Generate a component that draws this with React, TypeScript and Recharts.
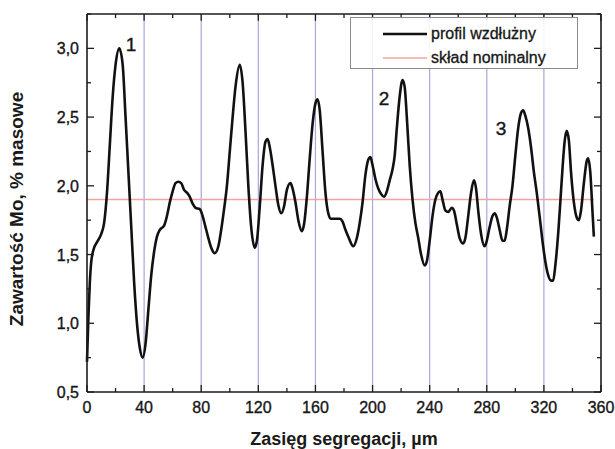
import React from 'react';
import {
  LineChart, Line, XAxis, YAxis, ReferenceLine, ReferenceDot, Legend,
} from 'recharts';

const positionsUm = [
  0, 1, 2, 3, 5, 7, 10, 12, 14, 16, 18, 20, 22.6, 25, 27, 29, 31, 33, 35, 37,
  39, 41, 43, 45, 47, 49, 51, 54, 56, 58, 60, 62, 64, 66, 68, 70, 72, 74, 76, 79,
  81, 83, 85, 87, 89.5, 92, 94, 96, 98, 100, 102, 104, 107, 109, 111, 113, 115, 117.5, 119, 121,
  123, 125, 126.5, 128, 130, 132, 134, 136, 138, 140, 142.5, 144, 146, 148, 150.5, 152, 154, 156, 158, 160,
  161.5, 163, 165, 167, 169, 171, 174, 177, 179, 181, 183, 186.5, 189, 191, 193, 195, 197, 198.5, 200, 202,
  204, 206, 208, 210, 212, 214, 215.5, 217, 219, 221, 222.5, 224, 226, 228, 230, 232, 234, 236.5, 238, 240,
  242, 244, 246, 247.5, 249, 251, 253, 255.5, 257, 259, 261, 263.5, 265, 267, 269, 271, 272.5, 274, 276, 278.5,
  280, 282, 284, 285.5, 287, 289, 291, 292.5, 294, 296, 298, 300, 302, 304, 305.5, 307, 309, 311, 313, 315,
  317, 319, 321, 323, 325, 326.5, 328, 330, 331.5, 333, 334.5, 336, 337.5, 339, 341, 343, 344.5, 346, 348, 350,
  351, 352.5, 354, 355,
];

const moContent = [
  0.72, 1.05, 1.3, 1.45, 1.55, 1.59, 1.65, 1.73, 1.95, 2.3, 2.65, 2.88, 3.0, 2.88, 2.5, 2.1, 1.7, 1.3, 1.0, 0.82,
  0.75, 0.85, 1.1, 1.35, 1.52, 1.63, 1.68, 1.71, 1.78, 1.88, 1.96, 2.02, 2.03, 2.02, 1.97, 1.95, 1.92, 1.87, 1.84, 1.83,
  1.78, 1.7, 1.62, 1.55, 1.51, 1.56, 1.68, 1.83, 2.0, 2.25, 2.5, 2.72, 2.88, 2.75, 2.4, 2.0, 1.7, 1.55, 1.6, 1.85,
  2.15, 2.32, 2.34, 2.28, 2.15, 2.0, 1.86, 1.8, 1.85, 1.97, 2.02, 1.98, 1.88, 1.75, 1.67, 1.72, 1.92, 2.2, 2.45, 2.6,
  2.63, 2.55, 2.25, 1.95, 1.8, 1.76, 1.76, 1.76, 1.74, 1.68, 1.63, 1.56, 1.62, 1.73, 1.88, 2.08, 2.19, 2.21, 2.15, 2.05,
  1.98, 1.94, 1.92, 1.96, 2.04, 2.12, 2.22, 2.42, 2.65, 2.77, 2.72, 2.5, 2.15, 1.9, 1.73, 1.62, 1.5, 1.42, 1.45, 1.6,
  1.78, 1.9, 1.95, 1.96, 1.9, 1.82, 1.81, 1.84, 1.82, 1.72, 1.62, 1.58, 1.62, 1.78, 1.95, 2.04, 1.98, 1.82, 1.65, 1.56,
  1.6, 1.7, 1.78, 1.8, 1.77, 1.68, 1.6, 1.6, 1.68, 1.85, 2.0, 2.22, 2.42, 2.53, 2.55, 2.51, 2.42, 2.28, 2.1, 1.95,
  1.78, 1.6, 1.45, 1.35, 1.31, 1.31, 1.42, 1.65, 1.88, 2.12, 2.32, 2.4, 2.33, 2.1, 1.88, 1.77, 1.75, 1.82, 2.02, 2.18,
  2.2, 2.1, 1.82, 1.63,
];

const nominalMo = 1.9;

const xDomain = [0, 360];
const yDomain = [0.5, 3.25];
const xTicks = [0, 20, 40, 60, 80, 100, 120, 140, 160, 180, 200, 220, 240, 260, 280, 300, 320, 340, 360];
const xLabelTicks = [0, 40, 80, 120, 160, 200, 240, 280, 320, 360];
const yTicks = [0.5, 0.75, 1.0, 1.25, 1.5, 1.75, 2.0, 2.25, 2.5, 2.75, 3.0, 3.25];
const yLabelTicks = [0.5, 1.0, 1.5, 2.0, 2.5, 3.0];
const gridX = [40, 80, 120, 160, 200, 240, 280, 320];

const peakMarks = [
  { label: '1', x: 30.8, y: 3.03 },
  { label: '2', x: 208, y: 2.64 },
  { label: '3', x: 290, y: 2.42 },
];

const seriesNames = ['profil wzdłużny', 'skład nominalny'];

const data = positionsUm.map((x, i) => ({ x, mo: moContent[i], nom: nominalMo }));

const FONT = '"Liberation Sans", Arial, sans-serif';
const AXIS = '#1c1c1c';
const LABEL = '#161616';

// inward tick lengths expressed in axis units (major / minor)
const Y_TICK_LEN = [0.05, 0.03];
const X_TICK_LEN = [4.9, 2.8];

const fmt = (v: number) => v.toFixed(1).replace('.', ',');

const BottomTick = (props: any) => {
  const { x, y, payload } = props;
  const v = payload.value;
  const major = xLabelTicks.includes(v);
  return (
    <g>
      <line x1={x} x2={x} y1={y} y2={y - (major ? 7 : 4)} stroke={AXIS} strokeWidth={1.3} />
      {major && (
        <text x={x} y={y + 21} textAnchor="middle" fontFamily={FONT} fontSize={16} fill={LABEL}
          stroke={LABEL} strokeWidth={0.35}>
          {v}
        </text>
      )}
    </g>
  );
};

const LeftTick = (props: any) => {
  const { x, y, payload } = props;
  const v = payload.value;
  const major = yLabelTicks.includes(v);
  return (
    <g>
      <line x1={x} x2={x + (major ? 7 : 4)} y1={y} y2={y} stroke={AXIS} strokeWidth={1.3} />
      {major && (
        <text x={x - 8} y={y + 6} textAnchor="end" fontFamily={FONT} fontSize={16} fill={LABEL}
          stroke={LABEL} strokeWidth={0.35}>
          {fmt(v)}
        </text>
      )}
    </g>
  );
};

const LegendBox = () => (
  <div
    style={{
      border: '1px solid #8a8a8a',
      background: 'rgba(255,255,255,0.9)',
      width: 228,
      height: 52,
      boxSizing: 'border-box',
      fontFamily: FONT,
      fontSize: 16,
      color: '#161616',
      paddingTop: 4,
      WebkitTextStroke: '0.3px #161616',
    }}
  >
    {seriesNames.map((name, i) => (
      <div key={name} style={{ display: 'flex', alignItems: 'center', height: 24 }}>
        <svg width={80} height={10} style={{ flex: 'none' }}>
          <line
            x1={32}
            x2={76}
            y1={5}
            y2={5}
            stroke={i === 0 ? '#111' : '#f2a49e'}
            strokeWidth={i === 0 ? 2.5 : 1.5}
          />
        </svg>
        <span style={{ lineHeight: '20px' }}>{name}</span>
      </div>
    ))}
  </div>
);

const PeakLabel = (props: any) => {
  const { cx, cy, label } = props;
  return (
    <text x={cx} y={cy + 7} textAnchor="middle" fontFamily={FONT} fontSize={19} fill="#161616"
      stroke="#161616" strokeWidth={0.4}>
      {label}
    </text>
  );
};

export default function App() {
  const topY = yDomain[1];
  const rightX = xDomain[1];
  return (
    <div style={{ position: 'absolute', left: 0, top: 0, width: 615, height: 449, background: '#fff' }}>
      <LineChart
        width={615}
        height={449}
        data={data}
        margin={{ top: 14, right: 14, bottom: 0, left: 0 }}
      >
        <XAxis
          dataKey="x"
          type="number"
          domain={xDomain}
          ticks={xTicks}
          interval={0}
          height={57}
          axisLine={{ stroke: AXIS, strokeWidth: 1.6 }}
          tickLine={false}
          tickSize={0}
          tickMargin={0}
          tick={<BottomTick />}
          label={{
            content: (p: any) => {
              const vb = p.viewBox;
              return (
                <text
                  x={vb.x + vb.width / 2}
                  y={445}
                  textAnchor="middle"
                  fontFamily={FONT}
                  fontWeight="bold"
                  fontSize={18}
                  fill="#1a1a1a"
                >
                  Zasięg segregacji, µm
                </text>
              );
            },
          }}
        />
        <YAxis
          type="number"
          domain={yDomain}
          ticks={yTicks}
          interval={0}
          width={87}
          axisLine={{ stroke: AXIS, strokeWidth: 1.6 }}
          tickLine={false}
          tickSize={0}
          tickMargin={0}
          tick={<LeftTick />}
          label={{
            content: (p: any) => {
              const vb = p.viewBox;
              const cy = vb.y + vb.height / 2 + 6;
              return (
                <text
                  x={16}
                  y={cy}
                  transform={`rotate(-90 16 ${cy})`}
                  textAnchor="middle"
                  dominantBaseline="central"
                  fontFamily={FONT}
                  fontWeight="bold"
                  fontSize={19}
                  fill="#1a1a1a"
                >
                  Zawartość Mo, % masowe
                </text>
              );
            },
          }}
        />
        {gridX.map((g) => (
          <ReferenceLine key={g} x={g} stroke="#a7a7dc" strokeWidth={1.2} />
        ))}
        {/* closed frame: top and right edges */}
        <ReferenceLine y={topY} stroke={AXIS} strokeWidth={1.6} ifOverflow="extendDomain" />
        <ReferenceLine x={rightX} stroke={AXIS} strokeWidth={1.6} ifOverflow="extendDomain" />
        {xTicks.map((t) => {
          const len = xLabelTicks.includes(t) ? Y_TICK_LEN[0] : Y_TICK_LEN[1];
          return (
            <ReferenceLine
              key={`tt${t}`}
              segment={[{ x: t, y: topY }, { x: t, y: topY - len }]}
              stroke={AXIS}
              strokeWidth={1.3}
              ifOverflow="extendDomain"
            />
          );
        })}
        {yTicks.map((t) => {
          const len = yLabelTicks.includes(t) ? X_TICK_LEN[0] : X_TICK_LEN[1];
          return (
            <ReferenceLine
              key={`rt${t}`}
              segment={[{ x: rightX, y: t }, { x: rightX - len, y: t }]}
              stroke={AXIS}
              strokeWidth={1.3}
              ifOverflow="extendDomain"
            />
          );
        })}
        <Line
          dataKey="nom"
          name={seriesNames[1]}
          type="linear"
          stroke="#f2a49e"
          strokeWidth={1.6}
          dot={false}
          activeDot={false}
          isAnimationActive={false}
        />
        <Line
          dataKey="mo"
          name={seriesNames[0]}
          type="monotone"
          stroke="#111"
          strokeWidth={2.6}
          dot={false}
          activeDot={false}
          isAnimationActive={false}
        />
        {peakMarks.map((m) => (
          <ReferenceDot
            key={m.label}
            x={m.x}
            y={m.y}
            r={0}
            shape={(p: any) => <PeakLabel {...p} label={m.label} />}
          />
        ))}
        <Legend
          layout="vertical"
          align="center"
          verticalAlign="middle"
          content={<LegendBox />}
          wrapperStyle={{ position: 'absolute', left: 350, top: 17, width: 228, height: 52 }}
        />
      </LineChart>
    </div>
  );
}
